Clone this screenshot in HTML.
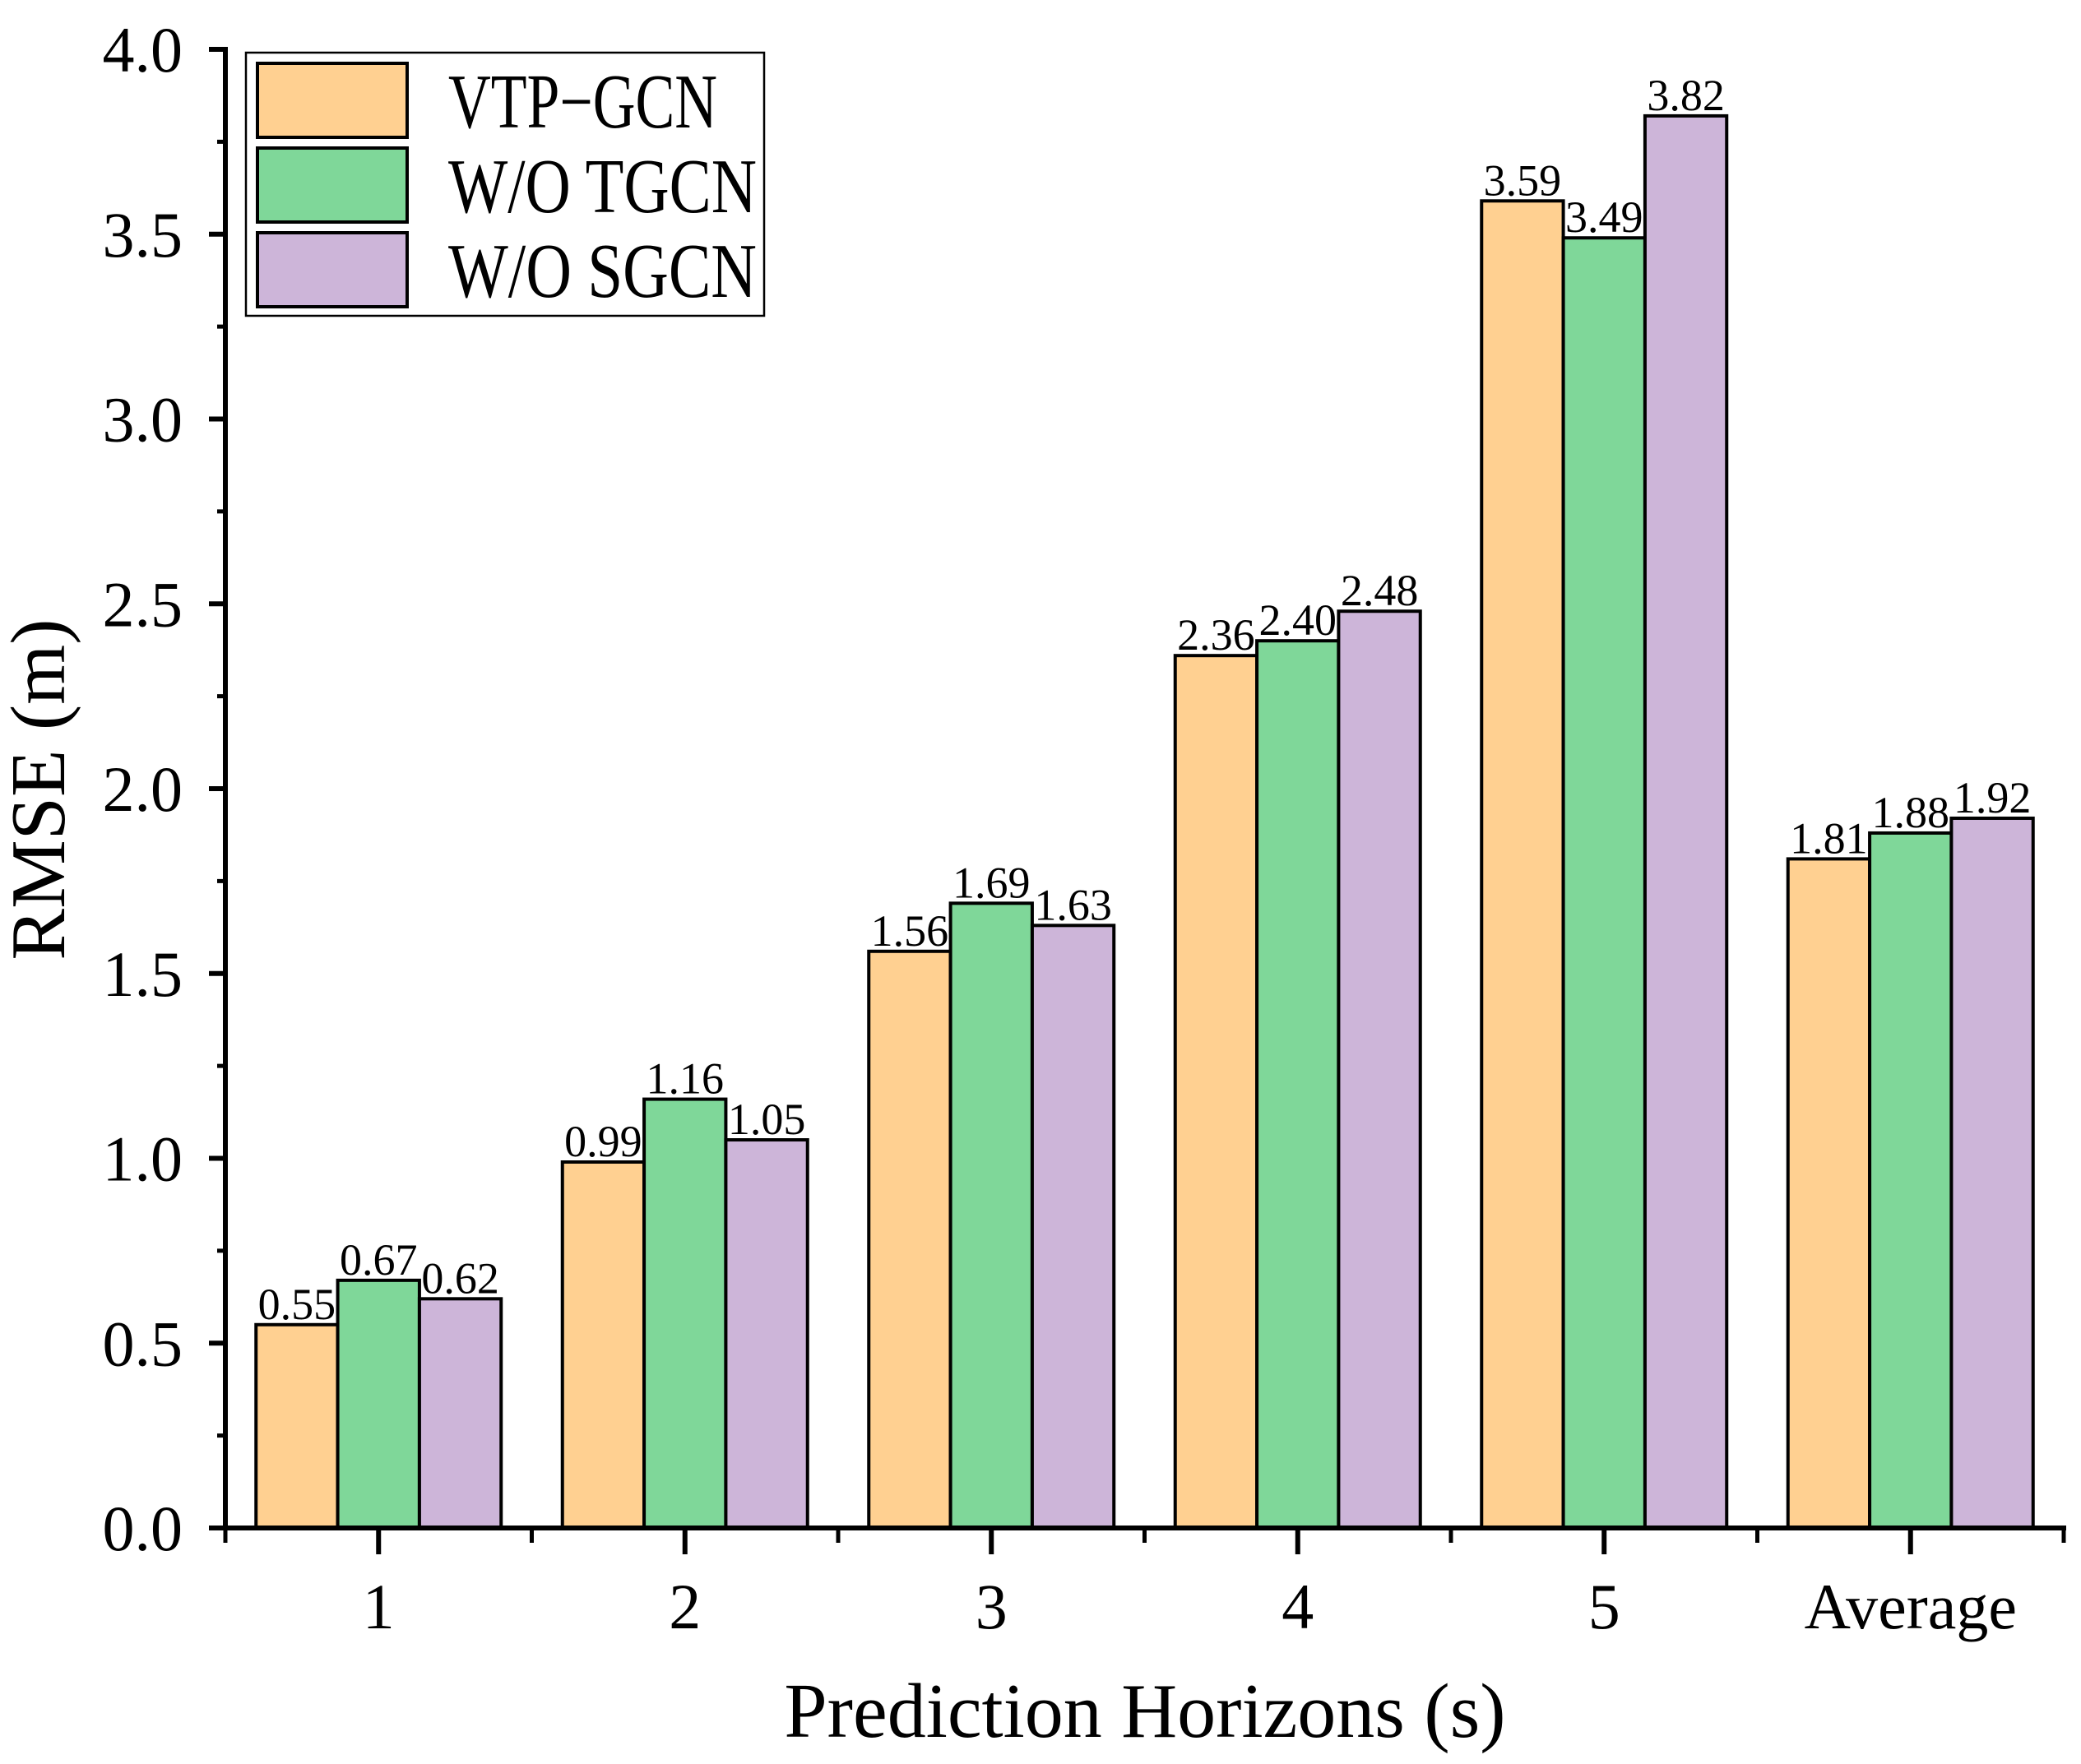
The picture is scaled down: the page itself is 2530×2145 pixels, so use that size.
<!DOCTYPE html>
<html><head><meta charset="utf-8"><style>
html,body{margin:0;padding:0;background:#fff}
svg{display:block}
text{font-family:"Liberation Serif",serif;fill:#000}
</style></head><body>
<svg id="chart" width="2530" height="2145" viewBox="0 0 2530 2145" xmlns="http://www.w3.org/2000/svg">
<g id="bars"></g>
<g id="axes"></g>
<text transform="translate(78,960) rotate(-90)" text-anchor="middle" font-size="94">RMSE (m)</text>
<text x="1392" y="2112" text-anchor="middle" font-size="94">Prediction Horizons (s)</text>
<g>
<rect x="299" y="64" width="630" height="320" fill="#fff" stroke="#000" stroke-width="2.5"/>
<rect x="313" y="77" width="182" height="90" fill="#FFD091" stroke="#000" stroke-width="4"/>
<rect x="313" y="180" width="182" height="90" fill="#7FD799" stroke="#000" stroke-width="4"/>
<rect x="313" y="283" width="182" height="90" fill="#CDB5D9" stroke="#000" stroke-width="4"/>
<text x="545" y="155" font-size="94" textLength="327" lengthAdjust="spacingAndGlyphs">VTP−GCN</text>
<text x="545" y="258" font-size="94" textLength="375" lengthAdjust="spacingAndGlyphs">W/O TGCN</text>
<text x="545" y="361" font-size="94" textLength="375" lengthAdjust="spacingAndGlyphs">W/O SGCN</text>
</g>
</svg>
<script>
const categories = ["1","2","3","4","5","Average"];
const vtpGcn = [0.55,0.99,1.56,2.36,3.59,1.81];
const woTgcn = [0.67,1.16,1.69,2.40,3.49,1.88];
const woSgcn = [0.62,1.05,1.63,2.48,3.82,1.92];
const yTicks = [0,0.5,1,1.5,2,2.5,3,3.5,4];
const yTickLabels = ["0.0","0.5","1.0","1.5","2.0","2.5","3.0","3.5","4.0"];

const NS="http://www.w3.org/2000/svg";
const x0=274, x1=2509, yTop=60, yBot=1858, yMax=4;
const band=(x1-x0)/categories.length;
function yScale(v){return yBot-(v/yMax)*(yBot-yTop);}
function xCenter(i){return x0+band*(i+0.5);}
const barW=band*0.8/3;
function mk(tag,attrs,parent){const e=document.createElementNS(NS,tag);for(const k in attrs)e.setAttribute(k,attrs[k]);parent.appendChild(e);return e;}
const bars=document.getElementById('bars');
const axes=document.getElementById('axes');
const series=[[vtpGcn,"#FFD091","vtp-gcn"],[woTgcn,"#7FD799","wo-tgcn"],[woSgcn,"#CDB5D9","wo-sgcn"]];
series.forEach((s,si)=>{
  s[0].forEach((v,i)=>{
    const x=xCenter(i)-1.5*barW+si*barW;
    const y=yScale(v);
    const r=mk('rect',{x:x,y:y,width:barW,height:yBot-y,fill:s[1],stroke:'#000','stroke-width':4},bars);
    
    
    const t=mk('text',{x:x+barW/2,y:y-7,'text-anchor':'middle','font-size':54},bars);
    t.textContent=v.toFixed(2);
    
    
  });
});
const ya=mk('line',{x1:x0,y1:yTop-3,x2:x0,y2:yBot+3,stroke:'#000','stroke-width':6},axes);


const xa=mk('line',{x1:x0-15,y1:yBot,x2:x1+3,y2:yBot,stroke:'#000','stroke-width':6},axes);


yTicks.forEach((v,i)=>{
  const y=yScale(v);
  const l=mk('line',{x1:x0-20,y1:y,x2:x0,y2:y,stroke:'#000','stroke-width':6},axes);
  
  
  if(i<yTicks.length-1){
    const ym=yScale(v+0.25);
    const m=mk('line',{x1:x0-10,y1:ym,x2:x0,y2:ym,stroke:'#000','stroke-width':5},axes);
    
    
  }
  const t=mk('text',{x:x0-52,y:y+27,'text-anchor':'end','font-size':78},axes);
  t.textContent=yTickLabels[i];
  
  
});
categories.forEach((c,i)=>{
  const x=xCenter(i);
  const l=mk('line',{x1:x,y1:yBot,x2:x,y2:yBot+32,stroke:'#000','stroke-width':6},axes);
  
  
  const t=mk('text',{x:x,y:1980,'text-anchor':'middle','font-size':78},axes);
  t.textContent=c;
  
  
});
for(let i=0;i<=categories.length;i++){
  const x=x0+band*i;
  const m=mk('line',{x1:x,y1:yBot,x2:x,y2:yBot+18,stroke:'#000','stroke-width':5},axes);
  
  
}
</script>
</body></html>
